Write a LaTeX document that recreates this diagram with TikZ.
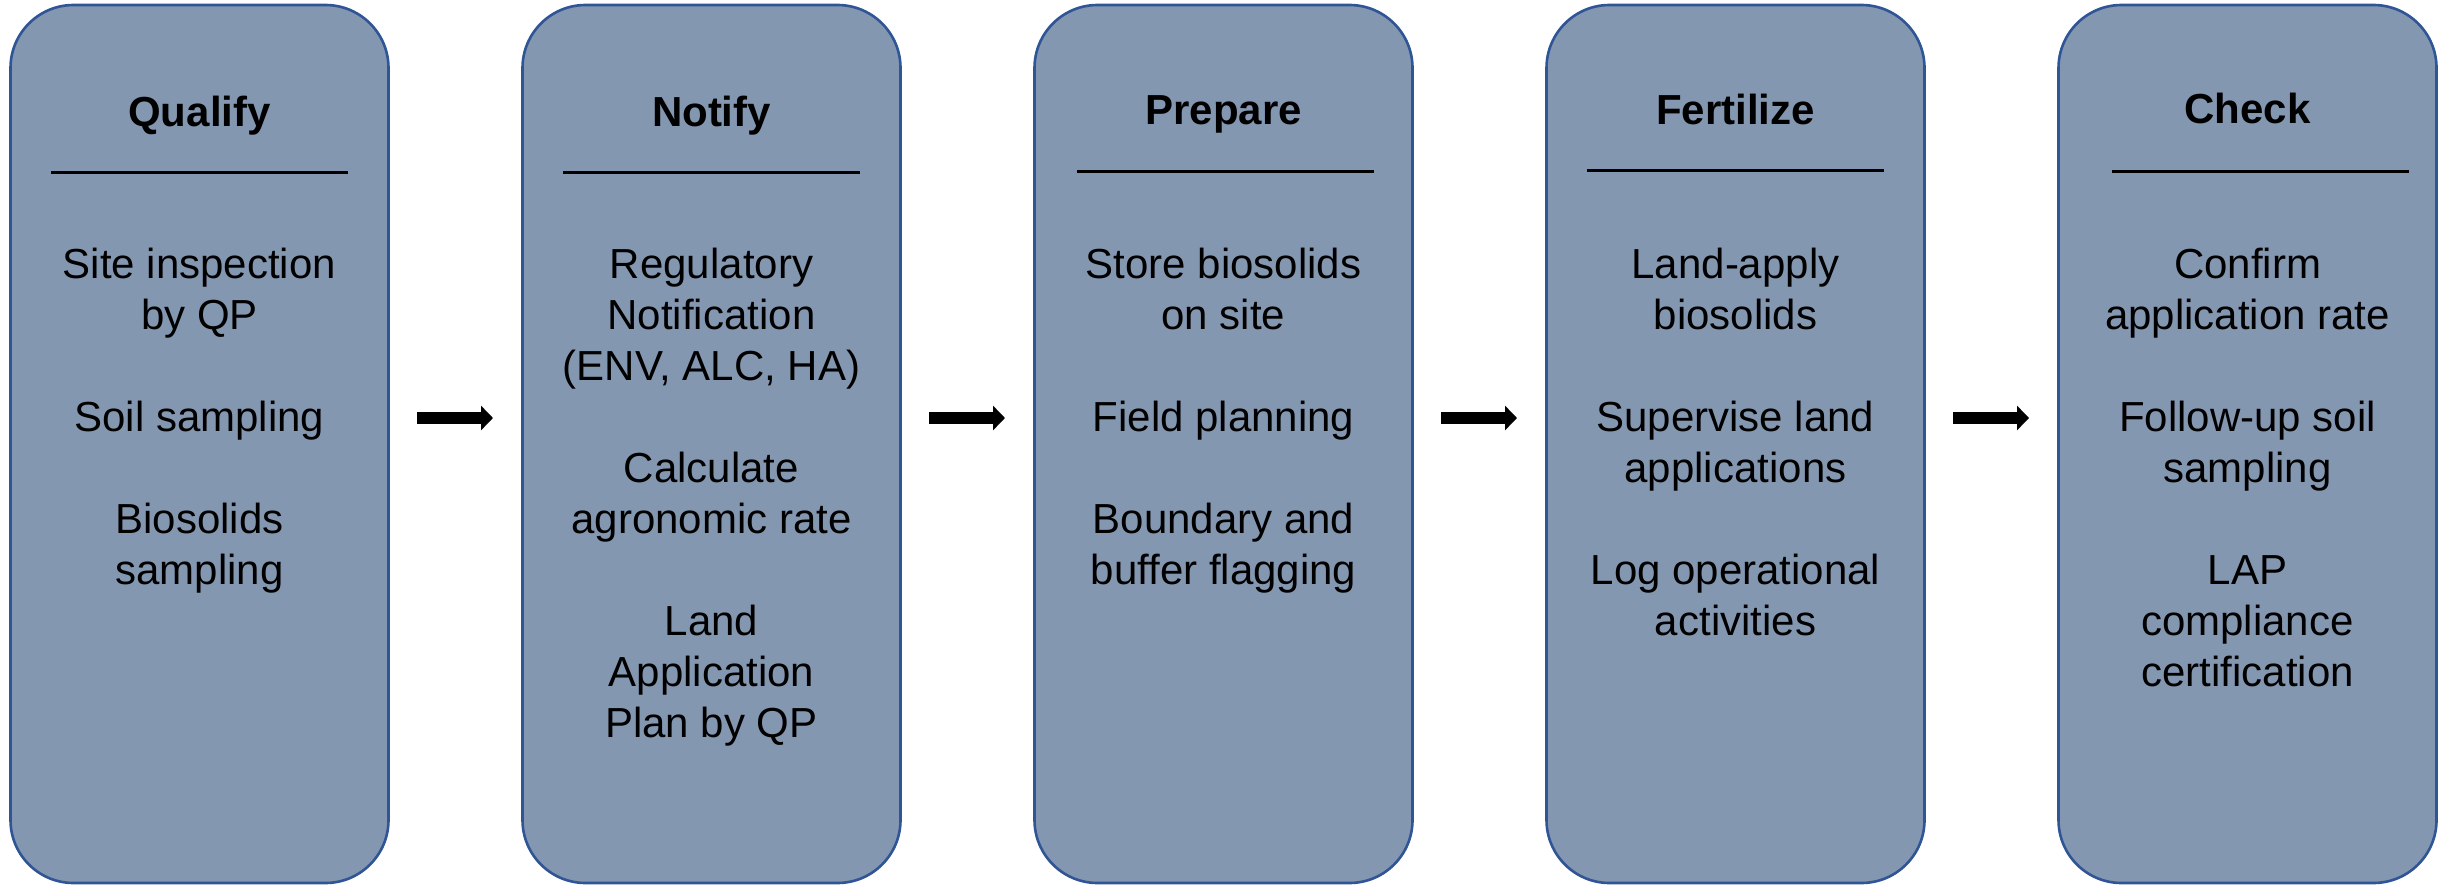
\documentclass[tikz,border=0pt]{standalone}
\usepackage{fontspec}
\setmainfont{Liberation Sans}
\usetikzlibrary{arrows.meta}
\definecolor{boxfill}{HTML}{8497B0}
\definecolor{boxline}{HTML}{2F5597}
\tikzset{
  stepbox/.style={draw=boxline, line width=2.6pt, fill=boxfill, rounded corners=63pt,
    minimum width=378pt, minimum height=878pt, inner sep=0pt, outer sep=0pt},
  titletext/.style={font=\fontsize{42}{51}\selectfont\bfseries, anchor=base, inner sep=0pt},
  bodytext/.style={font=\fontsize{42}{51}\selectfont, align=center, anchor=base, inner sep=0pt},
  rule/.style={line width=3pt, black},
  flowarrow/.style={line width=12pt, -{Triangle[length=12pt,width=24pt]}, black}
}
\begin{document}
\begin{tikzpicture}[x=1pt,y=1pt]
\useasboundingbox (0,0) rectangle (2450,-886);
% boxes
\node[stepbox] (b1) at (199.5,-444) {};
\node[stepbox] (b2) at (711.5,-444) {};
\node[stepbox] (b3) at (1223.5,-444) {};
\node[stepbox] (b4) at (1735.5,-444) {};
\node[stepbox] (b5) at (2247.5,-444) {};
% titles
\node[titletext] (t1) at (199.5,-126) {Qualify};
\node[titletext] (t2) at (711.5,-126) {Notify};
\node[titletext] (t3) at (1223.5,-124) {Prepare};
\node[titletext] (t4) at (1735.5,-124) {Fertilize};
\node[titletext] (t5) at (2247.5,-123) {Check};
% rules
\draw[rule] (51,-172) -- (348,-172);
\draw[rule] (563,-172) -- (860,-172);
\draw[rule] (1077,-171) -- (1374,-171);
\draw[rule] (1587,-170) -- (1884,-170);
\draw[rule] (2112,-171) -- (2409,-171);
% body texts (anchored at the baseline of the last line)
\node[bodytext] (c1) at (199.5,-584) {Site inspection\\by QP\\[51pt]Soil sampling\\[51pt]Biosolids\\sampling};
\node[bodytext] (c2) at (711.5,-737) {Regulatory\\Notification\\(ENV, ALC, HA)\\[51pt]Calculate\\agronomic rate\\[51pt]Land\\Application\\Plan by QP};
\node[bodytext] (c3) at (1223.5,-584) {Store biosolids\\on site\\[51pt]Field planning\\[51pt]Boundary and\\buffer flagging};
\node[bodytext] (c4) at (1735.5,-635) {Land-apply\\biosolids\\[51pt]Supervise land\\applications\\[51pt]Log operational\\activities};
\node[bodytext] (c5) at (2247.5,-686) {Confirm\\application rate\\[51pt]Follow-up soil\\sampling\\[51pt]LAP\\compliance\\certification};
% arrows
\draw[flowarrow] ([xshift=28.5pt,yshift=26pt]b1.east) -- ([xshift=-29.5pt,yshift=26pt]b2.west);
\draw[flowarrow] ([xshift=28.5pt,yshift=26pt]b2.east) -- ([xshift=-29.5pt,yshift=26pt]b3.west);
\draw[flowarrow] ([xshift=28.5pt,yshift=26pt]b3.east) -- ([xshift=-29.5pt,yshift=26pt]b4.west);
\draw[flowarrow] ([xshift=28.5pt,yshift=26pt]b4.east) -- ([xshift=-29.5pt,yshift=26pt]b5.west);
\end{tikzpicture}
\end{document}
